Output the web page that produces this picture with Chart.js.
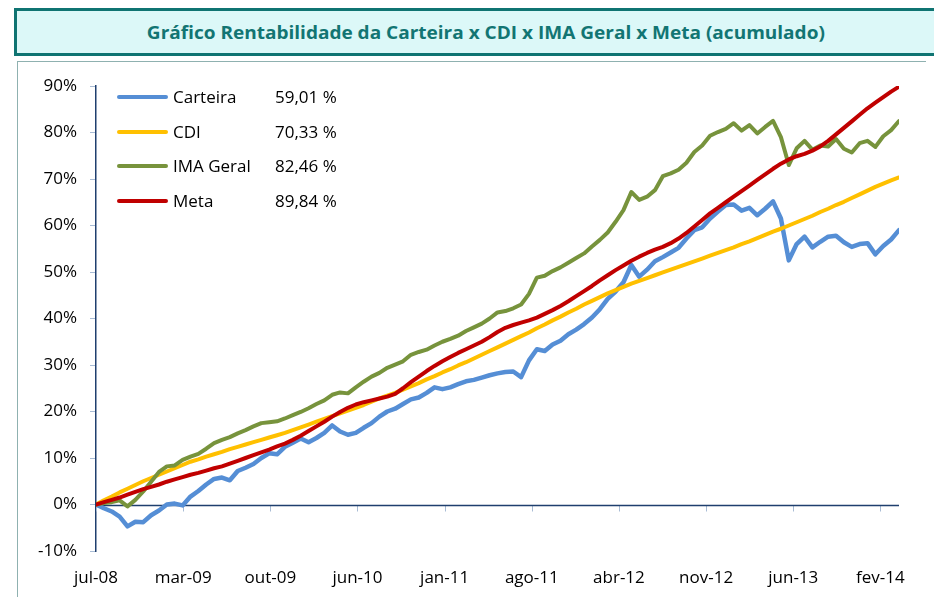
<!DOCTYPE html>
<html>
<head>
<meta charset="utf-8">
<script src="https://cdn.jsdelivr.net/npm/chart.js@4.4.0/dist/chart.umd.min.js"></script>
<style>
  html, body { margin:0; padding:0; width:934px; height:597px; overflow:hidden; background:#ffffff; }
  body { position:relative; font-family:'Open Sans', sans-serif; }
  #frame { position:absolute; left:17px; top:61px; width:908px; height:600px; border-left:1px solid #8fb1b0; border-top:1px solid #8fb1b0; }
  #title { position:absolute; left:14px; top:8px; width:944px; height:48px; box-sizing:border-box; border:3px solid #0f7472; background:#dcf8f8; z-index:3; }
  #title span { position:absolute; left:0; right:0; top:0; bottom:0; text-align:center; line-height:42px; font-weight:700; font-size:18px; color:#127573; white-space:nowrap; }
  #title span b { display:inline-block; font-weight:700; transform-origin:center center; }
  #chartWrap { position:absolute; left:0; top:0; width:934px; height:597px; z-index:2; }
  #legend { position:absolute; left:0; top:0; z-index:4; font-size:17px; color:#000; }
  .row { position:absolute; left:117px; height:24px; width:240px; }
  .sw { position:absolute; left:0; top:10px; width:51px; height:4px; border-radius:2px; }
  .lb { position:absolute; left:56px; top:0; line-height:24px; white-space:nowrap; }
  .vl { position:absolute; left:158px; top:0; line-height:24px; white-space:nowrap; }
</style>
</head>
<body>
<div id="frame"></div>
<div id="title"><span><b id="titleText">Gráfico Rentabilidade da Carteira x CDI x IMA Geral x Meta (acumulado)</b></span></div>
<div id="chartWrap"><canvas id="c" width="934" height="597"></canvas></div>
<div id="legend"></div>
<script>
// ---- data ----
const tickLabels = ['jul-08','mar-09','out-09','jun-10','jan-11','ago-11','abr-12','nov-12','jun-13','fev-14'];
const seriesNames = ['Carteira','CDI','IMA Geral','Meta'];
const legendValues = ['59,01 %','70,33 %','82,46 %','89,84 %'];
const STEP = 14;        // business days between samples
const TICK_EVERY = 155; // business days between axis labels

const carteira = [0,-0.8,-1.5,-2.6,-4.7,-3.7,-3.8,-2.3,-1.3,0.0,0.2,-0.2,1.7,2.9,4.3,5.5,5.8,5.2,7.2,7.9,
  8.7,10.0,11.0,10.8,12.4,13.3,14.2,13.4,14.3,15.4,17.0,15.7,15.0,15.4,16.5,17.5,18.9,20.0,20.6,21.6,
  22.6,23.0,24.0,25.2,24.8,25.2,25.9,26.5,26.8,27.3,27.8,28.2,28.5,28.6,27.4,31.0,33.4,33.0,34.4,35.2,
  36.6,37.6,38.8,40.2,42.0,44.2,45.8,47.8,51.5,49.0,50.5,52.3,53.2,54.2,55.2,57.2,59.0,59.6,61.5,63.0,
  64.4,64.5,63.2,63.8,62.2,63.6,65.2,61.5,52.5,56.0,57.6,55.3,56.5,57.6,57.8,56.4,55.4,56.0,56.2,53.8,
  55.6,57.0,59.01];
const cdi = [0,0.9,1.7,2.6,3.4,4.2,5.0,5.7,6.4,7.1,7.8,8.5,9.2,9.7,10.3,10.8,11.3,11.9,12.4,12.9,
  13.4,13.9,14.4,14.9,15.4,16.0,16.6,17.2,17.8,18.4,19.0,19.6,20.2,20.8,21.4,22.1,22.8,23.4,24.0,24.7,
  25.4,26.1,26.9,27.6,28.4,29.1,29.9,30.6,31.4,32.2,33.0,33.8,34.6,35.4,36.2,37.0,37.9,38.7,39.6,40.4,
  41.3,42.1,43.0,43.8,44.6,45.4,46.1,46.8,47.5,48.1,48.7,49.3,49.9,50.5,51.1,51.7,52.3,52.9,53.5,54.1,
  54.7,55.3,56.0,56.6,57.3,58.0,58.7,59.3,60.0,60.7,61.4,62.1,62.9,63.6,64.4,65.1,65.9,66.7,67.5,68.3,
  69.0,69.7,70.33];
const imaGeral = [0,0.3,0.5,0.9,-0.4,1.0,2.8,4.9,7.0,8.2,8.4,9.6,10.3,10.9,12.0,13.2,13.9,14.5,15.3,16.0,
  16.8,17.5,17.7,17.9,18.5,19.2,19.9,20.7,21.6,22.4,23.6,24.1,23.9,25.2,26.4,27.5,28.3,29.4,30.1,30.8,
  32.2,32.8,33.3,34.2,35.0,35.6,36.3,37.3,38.1,38.9,40.0,41.3,41.6,42.2,43.0,45.3,48.8,49.2,50.2,51.0,
  52.0,53.0,54.0,55.5,56.9,58.5,60.8,63.3,67.2,65.5,66.2,67.6,70.6,71.2,72.0,73.5,75.8,77.2,79.3,80.1,
  80.8,82.0,80.4,81.6,79.8,81.2,82.5,79.0,73.0,76.6,78.2,76.3,77.2,77.0,78.6,76.5,75.7,77.7,78.2,76.9,
  79.2,80.5,82.46];
const meta = [0,0.5,1.0,1.5,2.1,2.7,3.3,3.8,4.3,4.9,5.4,5.9,6.4,6.8,7.3,7.8,8.2,8.8,9.4,10.0,
  10.6,11.2,11.8,12.5,13.1,13.9,14.8,15.8,16.8,17.8,18.9,19.9,20.8,21.5,22.0,22.4,22.8,23.2,23.8,25.0,
  26.3,27.5,28.7,29.8,30.8,31.7,32.6,33.4,34.2,35.0,36.0,37.1,38.0,38.6,39.1,39.6,40.2,41.0,41.8,42.7,
  43.7,44.8,45.9,47.0,48.2,49.3,50.4,51.4,52.4,53.3,54.1,54.8,55.4,56.2,57.2,58.4,59.8,61.2,62.6,63.8,
  65.0,66.2,67.4,68.6,69.8,71.0,72.2,73.3,74.2,74.9,75.4,76.1,77.0,78.2,79.6,81.0,82.4,83.8,85.2,86.4,
  87.6,88.8,89.84];

// ---- styles ----
const seriesColors = ['#558ed5','#ffc000','#77933c','#c00000'];
const seriesWidths = [4.5, 4, 4, 4];
const seriesValues = [carteira, cdi, imaGeral, meta];
const AXIS_COLOR = '#1f3f6e';
const TICK_COLOR = '#a9bcd5';
const FONT = "'Open Sans', sans-serif";

// title fit (Calibri-like condensed width)
(function(){
  const t = document.getElementById('titleText');
  const w = t.getBoundingClientRect().width;
  t.style.transform = 'scaleX(' + (678 / w) + ')';
})();

// legend
const legendEl = document.getElementById('legend');
seriesNames.forEach((name, k) => {
  const row = document.createElement('div');
  row.className = 'row';
  row.style.top = (85 + k * 34.6) + 'px';
  row.innerHTML = '<div class="sw" style="background:' + seriesColors[k] + '"></div>' +
    '<div class="lb">' + name + '</div><div class="vl">' + legendValues[k] + '</div>';
  legendEl.appendChild(row);
});

const lastX = (carteira.length - 1) * STEP;

const zeroAxis = {
  id: 'zeroAxis',
  beforeDatasetsDraw(chart) {
    const { ctx, scales: { x, y } } = chart;
    const y0 = Math.round(y.getPixelForValue(0)) + 0.5;
    ctx.save();
    ctx.strokeStyle = TICK_COLOR;
    ctx.lineWidth = 1;
    x.ticks.forEach(t => {
      const px = Math.round(x.getPixelForValue(t.value)) + 0.5;
      ctx.beginPath(); ctx.moveTo(px, y0); ctx.lineTo(px, y0 + 6); ctx.stroke();
    });
    ctx.strokeStyle = AXIS_COLOR;
    ctx.lineWidth = 1.5;
    ctx.beginPath(); ctx.moveTo(x.left, y0); ctx.lineTo(x.right, y0); ctx.stroke();
    ctx.restore();
  }
};

new Chart(document.getElementById('c'), {
  type: 'line',
  data: {
    datasets: seriesNames.map((name, k) => ({
      label: name,
      data: seriesValues[k].map((v, i) => ({ x: i * STEP, y: v })),
      borderColor: seriesColors[k],
      backgroundColor: seriesColors[k],
      borderWidth: seriesWidths[k],
      pointRadius: 0,
      tension: 0,
      borderJoinStyle: 'round',
      borderCapStyle: 'round',
      order: 3 - k
    }))
  },
  options: {
    responsive: false,
    animation: false,
    events: [],
    layout: { padding: { left: 26, top: 86, right: 35, bottom: 0 } },
    plugins: { legend: { display: false }, tooltip: { enabled: false }, title: { display: false } },
    scales: {
      x: {
        type: 'linear',
        position: 'bottom',
        min: 0,
        max: lastX,
        grid: { display: false, drawTicks: false },
        border: { display: false },
        afterFit: s => { s.height = 46; },
        afterBuildTicks: s => { s.ticks = tickLabels.map((_, k) => ({ value: k * TICK_EVERY })); },
        ticks: {
          autoSkip: false,
          maxRotation: 0,
          padding: 17,
          color: '#000',
          font: { family: FONT, size: 17 },
          callback: (v, i) => tickLabels[i]
        }
      },
      y: {
        min: -10,
        max: 90,
        afterFit: s => { s.width = 70; },
        grid: { drawOnChartArea: false, drawTicks: true, tickLength: 6, color: TICK_COLOR },
        border: { display: true, color: AXIS_COLOR, width: 1.5 },
        ticks: {
          stepSize: 10,
          padding: 13,
          color: '#000',
          font: { family: FONT, size: 17 },
          callback: v => v + '%'
        }
      }
    }
  },
  plugins: [zeroAxis]
});
</script>
</body>
</html>
